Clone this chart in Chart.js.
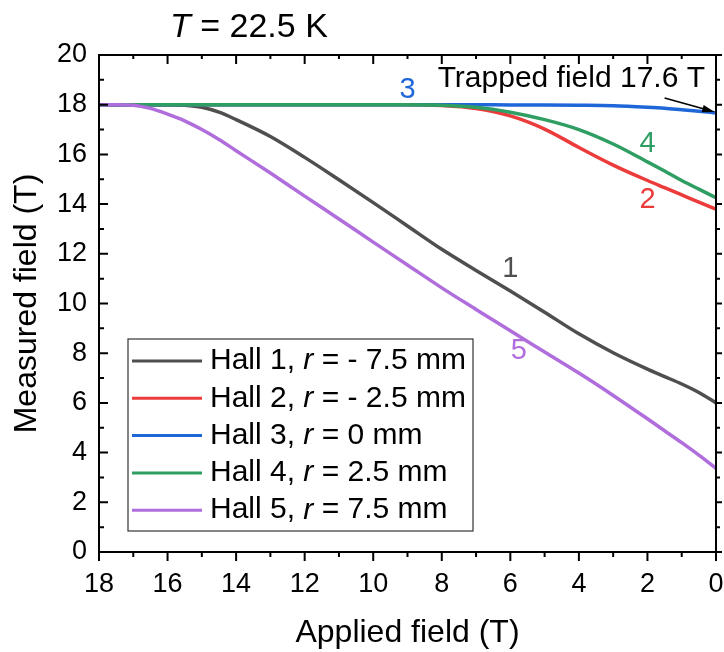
<!DOCTYPE html>
<html>
<head>
<meta charset="utf-8">
<script src="https://cdn.jsdelivr.net/npm/chart.js@4"></script>
<style>
  html, body { margin: 0; padding: 0; background: #fff; }
  #wrap { width: 724px; height: 652px; }
</style>
</head>
<body>
<div id="wrap"><canvas id="fieldChart" width="724" height="652"></canvas></div>
<script>
// applied field (T), swept down from 18 T to 0
const appliedField = [18, 17.5, 17, 16.5, 16, 15.5, 15, 14.5, 14, 13, 12, 11, 10, 9, 8, 7, 6, 5, 4, 3, 2, 1.5, 1, 0.5, 0];

// measured field (T) for each Hall sensor
const hall1 = [18, 18, 18, 18, 18, 17.98, 17.9, 17.7, 17.4, 16.72, 15.88, 14.98, 14.06, 13.12, 12.18, 11.33, 10.5, 9.65, 8.78, 8.02, 7.36, 7.06, 6.76, 6.42, 6.0];
const hall2 = [18, 18, 18, 18, 18, 18, 18, 18, 18, 18, 18, 18, 18, 18, 17.97, 17.85, 17.55, 17.02, 16.28, 15.57, 14.95, 14.66, 14.37, 14.08, 13.8];
const hall3 = [18, 18, 18, 18, 18, 18, 18, 18, 18, 18, 18, 18, 18, 18, 18, 18, 17.99, 17.99, 17.98, 17.96, 17.9, 17.86, 17.8, 17.74, 17.67];
const hall4 = [18, 18, 18, 18, 18, 18, 18, 18, 18, 18, 18, 18, 18, 18, 17.98, 17.9, 17.7, 17.4, 17.0, 16.42, 15.7, 15.33, 14.95, 14.6, 14.26];
const hall5 = [18, 18, 17.98, 17.85, 17.62, 17.35, 17.0, 16.6, 16.15, 15.25, 14.32, 13.4, 12.47, 11.55, 10.63, 9.76, 8.9, 8.05, 7.2, 6.3, 5.36, 4.88, 4.4, 3.9, 3.37];

const hallNames = ['Hall 1', 'Hall 2', 'Hall 3', 'Hall 4', 'Hall 5'];
const hallRadius = ['- 7.5 mm', '- 2.5 mm', '0 mm', '2.5 mm', '7.5 mm'];
const hallColors = ['#4f4f4f', '#ec3b3b', '#1f66d9', '#2f9e62', '#b06edd'];

// curve number tags, placed in data units [applied, measured]
const curveTags = ['1', '2', '3', '4', '5'];
const tagPos = [[6.0, 11.4], [2.0, 14.15], [9.0, 18.6], [2.0, 16.4], [5.75, 8.1]];

const xTicks = [18, 16, 14, 12, 10, 8, 6, 4, 2, 0];
const yTicks = [0, 2, 4, 6, 8, 10, 12, 14, 16, 18, 20];

const trappedText = 'Trapped field 17.6 T';
const trappedValue = 17.67;

const FONT = '"Liberation Sans", Arial, Helvetica, sans-serif';
const series = [hall1, hall2, hall3, hall4, hall5];

const datasets = series.map((vals, i) => ({
    label: hallNames[i],
    data: appliedField.map((x, j) => ({ x: x, y: vals[j] })),
    borderColor: hallColors[i],
    backgroundColor: hallColors[i],
    borderWidth: 3.5,
    pointRadius: 0,
    cubicInterpolationMode: 'monotone',
    fill: false
}));
// flat-top curves go under the sloping ones
datasets.reverse();

// frame, minor ticks, tags, title, legend and arrow
const decorations = {
    id: 'decorations',
    afterDatasetsDraw(chart) {
        const ctx = chart.ctx;
        const area = chart.chartArea;
        const xs = chart.scales.x;
        const ys = chart.scales.y;
        ctx.save();

        // frame
        ctx.strokeStyle = '#000';
        ctx.lineWidth = 2;
        ctx.strokeRect(area.left, area.top, area.right - area.left, area.bottom - area.top);

        // x ticks: out at the bottom, in at the top
        for (let v = 0; v <= 18; v++) {
            const px = xs.getPixelForValue(v);
            const major = v % 2 === 0;
            ctx.beginPath();
            ctx.moveTo(px, area.bottom);
            ctx.lineTo(px, area.bottom + (major ? 9 : 5));
            ctx.moveTo(px, area.top);
            ctx.lineTo(px, area.top + (major ? 9 : 4));
            ctx.stroke();
        }
        // y ticks: in on the left, out on the right
        for (let v = 0; v <= 20; v++) {
            const py = ys.getPixelForValue(v);
            const major = v % 2 === 0;
            ctx.beginPath();
            ctx.moveTo(area.left, py);
            ctx.lineTo(area.left + (major ? 9 : 5), py);
            ctx.moveTo(area.right, py);
            ctx.lineTo(area.right + (major ? 6 : 4), py);
            ctx.stroke();
        }

        // curve tags
        ctx.font = '29px ' + FONT;
        ctx.textAlign = 'center';
        ctx.textBaseline = 'middle';
        curveTags.forEach((t, i) => {
            ctx.fillStyle = hallColors[i];
            ctx.fillText(t, xs.getPixelForValue(tagPos[i][0]), ys.getPixelForValue(tagPos[i][1]));
        });

        // trapped field note and arrow
        ctx.font = '30px ' + FONT;
        ctx.fillStyle = '#000';
        ctx.textAlign = 'right';
        ctx.textBaseline = 'alphabetic';
        ctx.fillText(trappedText, xs.getPixelForValue(0.32), ys.getPixelForValue(18.72));
        const ax0 = xs.getPixelForValue(1.5), ay0 = ys.getPixelForValue(18.27);
        const ax1 = xs.getPixelForValue(0.04), ay1 = ys.getPixelForValue(trappedValue + 0.04);
        const ang = Math.atan2(ay1 - ay0, ax1 - ax0);
        ctx.strokeStyle = '#000';
        ctx.lineWidth = 1.6;
        ctx.beginPath();
        ctx.moveTo(ax0, ay0);
        ctx.lineTo(ax1 - 8 * Math.cos(ang), ay1 - 8 * Math.sin(ang));
        ctx.stroke();
        ctx.beginPath();
        ctx.moveTo(ax1, ay1);
        ctx.lineTo(ax1 - 13 * Math.cos(ang - 0.3), ay1 - 13 * Math.sin(ang - 0.3));
        ctx.lineTo(ax1 - 13 * Math.cos(ang + 0.3), ay1 - 13 * Math.sin(ang + 0.3));
        ctx.closePath();
        ctx.fill();

        // title with italic T
        ctx.textAlign = 'left';
        ctx.font = 'italic 34px ' + FONT;
        let tx = area.left + 71;
        const ty = area.top - 18;
        ctx.fillText('T', tx, ty);
        tx += ctx.measureText('T').width;
        ctx.font = '34px ' + FONT;
        ctx.fillText(' = 22.5 K', tx, ty);

        // legend box
        const lx = area.left + 29, ly = area.top + 284;
        ctx.lineWidth = 1.2;
        ctx.strokeStyle = '#333';
        ctx.strokeRect(lx, ly, 345, 192);
        ctx.textBaseline = 'middle';
        for (let i = 0; i < hallNames.length; i++) {
            const rowY = ly + 22 + i * 37.3;
            ctx.strokeStyle = hallColors[i];
            ctx.lineWidth = 3;
            ctx.beginPath();
            ctx.moveTo(lx + 4, rowY);
            ctx.lineTo(lx + 74, rowY);
            ctx.stroke();
            ctx.fillStyle = '#000';
            let cx = lx + 82;
            ctx.font = '30px ' + FONT;
            const head = hallNames[i] + ', ';
            ctx.fillText(head, cx, rowY);
            cx += ctx.measureText(head).width;
            ctx.font = 'italic 30px ' + FONT;
            ctx.fillText('r', cx, rowY);
            cx += ctx.measureText('r').width;
            ctx.font = '30px ' + FONT;
            ctx.fillText(' = ' + hallRadius[i], cx, rowY);
        }
        ctx.restore();
    }
};

const ctx = document.getElementById('fieldChart').getContext('2d');
new Chart(ctx, {
    type: 'line',
    data: { datasets: datasets },
    options: {
        responsive: false,
        animation: false,
        layout: { autoPadding: false, padding: { top: 55, right: 8, bottom: 0, left: 0 } },
        plugins: { legend: { display: false }, tooltip: { enabled: false } },
        scales: {
            x: {
                type: 'linear',
                reverse: true,
                min: 0,
                max: 18,
                afterFit: (scale) => {
                    scale.height = 100;
                    // let the last label run off the edge instead of shrinking the plot
                    scale.paddingLeft = 0;
                    scale.paddingRight = 0;
                },
                afterBuildTicks: (scale) => { scale.ticks = xTicks.map(v => ({ value: v })); },
                grid: { display: false, drawTicks: false },
                border: { display: false },
                ticks: { color: '#000', padding: 16, maxRotation: 0, font: { family: FONT, size: 27 } },
                title: { display: true, text: 'Applied field (T)', color: '#000', padding: 0, font: { family: FONT, size: 32 } }
            },
            y: {
                type: 'linear',
                min: 0,
                max: 20,
                afterFit: (scale) => {
                    scale.width = 99;
                    scale.paddingTop = 0;
                    scale.paddingBottom = 0;
                },
                afterBuildTicks: (scale) => { scale.ticks = yTicks.map(v => ({ value: v })); },
                grid: { display: false, drawTicks: false },
                border: { display: false },
                ticks: { color: '#000', padding: 12, font: { family: FONT, size: 27 } },
                title: { display: true, text: 'Measured field (T)', color: '#000', padding: { top: 8, bottom: 0 }, font: { family: FONT, size: 32 } }
            }
        }
    },
    plugins: [decorations]
});
</script>
</body>
</html>
